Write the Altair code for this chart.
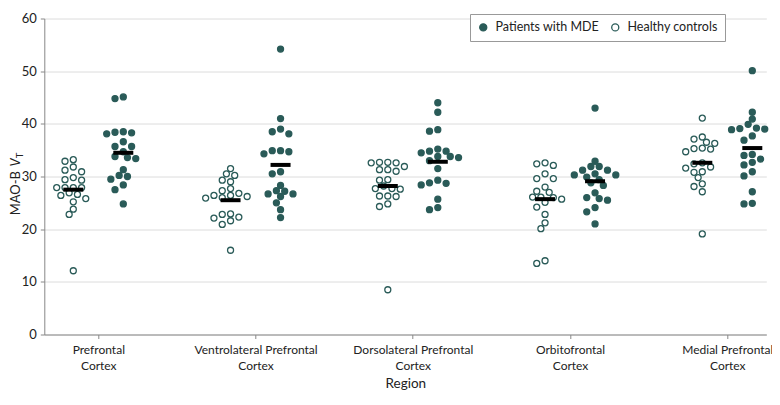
import altair as alt
import pandas as pd

# ---------------- data ----------------
regions = ["Prefrontal Cortex", "Ventrolateral Prefrontal Cortex",
           "Dorsolateral Prefrontal Cortex", "Orbitofrontal Cortex",
           "Medial Prefrontal Cortex"]
region_labels = [["Prefrontal", "Cortex"],
                 ["Ventrolateral Prefrontal", "Cortex"],
                 ["Dorsolateral Prefrontal", "Cortex"],
                 ["Orbitofrontal", "Cortex"],
                 ["Medial Prefrontal", "Cortex"]]
groups = ["Patients with MDE", "Healthy controls"]

hc_prefrontal = [33.2, 32.9, 31.8, 31.2, 30.9, 29.8, 29.4, 29.3, 27.9, 27.9,
                 27.9, 27.9, 26.9, 26.6, 26.4, 25.8, 25.2, 23.8, 22.8, 12.1]
mde_prefrontal = [45.1, 44.8, 38.5, 38.4, 38.3, 38.1, 36.6, 35.7, 35.7, 34.7,
                  33.8, 33.6, 33.4, 31.3, 30.2, 30.0, 29.5, 28.4, 27.5, 24.8]
hc_ventrolateral = [31.5, 30.5, 30.2, 29.3, 29.0, 27.7, 27.3, 26.8, 26.4, 26.4,
                    26.2, 26.0, 25.9, 22.9, 22.8, 22.3, 22.1, 21.6, 20.9, 16.0]
mde_ventrolateral = [54.2, 41.0, 39.0, 38.5, 38.1, 34.9, 34.9, 34.7, 34.3, 30.9,
                     30.5, 28.3, 27.3, 27.2, 26.7, 26.7, 26.2, 25.0, 23.7, 22.2]
hc_dorsolateral = [32.7, 32.6, 32.7, 32.6, 31.9, 31.3, 31.3, 31.0, 29.4, 29.3,
                   28.2, 27.7, 27.7, 27.6, 26.3, 26.2, 26.3, 24.8, 24.3, 8.5]
mde_dorsolateral = [44.0, 42.2, 38.9, 38.6, 35.2, 34.8, 34.8, 34.5, 33.8, 33.6,
                    33.0, 33.8, 31.5, 28.7, 28.4, 28.8, 29.3, 25.7, 24.1, 23.7]
hc_orbitofrontal = [32.4, 32.6, 32.1, 30.5, 29.6, 29.6, 28.0, 27.0, 27.2, 26.1,
                    26.1, 26.0, 25.7, 25.1, 24.2, 22.8, 21.2, 20.1, 14.0, 13.5]
mde_orbitofrontal = [43.0, 32.9, 31.9, 31.9, 30.5, 30.3, 31.2, 31.2, 30.3, 29.9,
                     28.8, 29.4, 28.3, 26.9, 25.8, 25.5, 26.0, 24.1, 23.3, 21.0]
hc_medial = [41.1, 37.5, 37.1, 36.5, 36.3, 35.3, 34.7, 35.4, 35.2, 32.4,
             32.6, 31.8, 31.6, 30.8, 30.9, 29.8, 28.6, 28.1, 27.1, 19.1]
mde_medial = [50.1, 42.2, 40.9, 39.9, 39.2, 39.0, 39.1, 38.9, 37.7, 36.9,
              34.2, 34.0, 33.3, 32.7, 32.2, 30.9, 30.1, 27.1, 24.9, 24.8]

# group means drawn as black bars
mean_mde = [34.5, 32.2, 32.8, 29.1, 35.4]
mean_hc = [27.5, 25.5, 28.2, 25.7, 32.6]

y_ticks = [0, 10, 20, 30, 40, 50, 60]

# ---------------- styling ----------------
TEAL = "#2A5B58"
FONT = "Lato"
W, H = 722, 316
PX_PER_REGION = 157.25
X_MIN = -54 / PX_PER_REGION
X_DOMAIN = [X_MIN, X_MIN + W / PX_PER_REGION]
Y_DOMAIN = [0, 60]
GROUP_SHIFT = 25 / PX_PER_REGION  # in region units

px_per_x = PX_PER_REGION
px_per_y = H / (Y_DOMAIN[1] - Y_DOMAIN[0])


def swarm_offsets(values, d=6.7, step=4.15):
    """Simple beeswarm: horizontal pixel offsets so dots do not overlap."""
    order = sorted(range(len(values)), key=lambda i: -values[i])
    cands = sorted([k * step for k in range(-10, 11)], key=lambda o: (abs(o), o))
    placed, offs = [], [0.0] * len(values)
    for i in order:
        yy = values[i] * px_per_y
        for o in cands:
            if all((o - po) ** 2 + (yy - py) ** 2 >= d * d for po, py in placed):
                break
        placed.append((o, yy))
        offs[i] = o
    return offs


hc_all = [hc_prefrontal, hc_ventrolateral, hc_dorsolateral, hc_orbitofrontal, hc_medial]
mde_all = [mde_prefrontal, mde_ventrolateral, mde_dorsolateral, mde_orbitofrontal, mde_medial]

rows = []
for ri in range(len(regions)):
    for grp, vals, sgn in [(groups[1], hc_all[ri], -1), (groups[0], mde_all[ri], 1)]:
        offs = swarm_offsets(vals)
        for v, o in zip(vals, offs):
            rows.append({"region": regions[ri], "group": grp, "value": v,
                         "x": ri + sgn * GROUP_SHIFT + o / px_per_x})
df = pd.DataFrame(rows)

mrows = []
for ri in range(len(regions)):
    mrows.append({"group": groups[1], "mean": mean_hc[ri], "x": ri - GROUP_SHIFT})
    mrows.append({"group": groups[0], "mean": mean_mde[ri], "x": ri + GROUP_SHIFT})
mdf = pd.DataFrame(mrows)

label_expr = ""
for i, lab in enumerate(region_labels):
    label_expr += f"datum.value == {i} ? {lab!r} : "
label_expr += "''"

x_enc = alt.X("x:Q",
              scale=alt.Scale(domain=X_DOMAIN, nice=False, zero=False),
              axis=alt.Axis(values=list(range(len(regions))), labelExpr=label_expr,
                            title="Region", grid=False, tickSize=4, labelPadding=6,
                            labelLineHeight=16, labelFontSize=12, titleFontSize=13.5,
                            titlePadding=5, titleFontWeight="normal"))
y_enc = alt.Y("value:Q",
              scale=alt.Scale(domain=Y_DOMAIN, nice=False),
              axis=alt.Axis(values=y_ticks, title=None, grid=True, tickSize=4,
                            labelPadding=4, labelFontSize=13))

points = alt.Chart(df).mark_point(
    shape="circle", filled=True, size=36, stroke=TEAL, strokeWidth=1.3, opacity=1
).encode(
    x=x_enc, y=y_enc,
    fill=alt.Fill("group:N",
                  scale=alt.Scale(domain=groups, range=[TEAL, "white"]),
                  legend=alt.Legend(title=None, orient="none", direction="horizontal",
                                    legendX=425.7, legendY=-4.5,
                                    fillColor="white", strokeColor="#999",
                                    padding=7, labelFontSize=12.5, labelFont=FONT,
                                    labelColor="#222", symbolType="circle",
                                    symbolSize=50, symbolStrokeColor=TEAL,
                                    symbolStrokeWidth=1.3, labelOffset=6,
                                    columnPadding=9))
)

means = alt.Chart(mdf).mark_tick(orient="horizontal", size=20, thickness=4,
                                 color="black", opacity=1).encode(
    x=alt.X("x:Q"), y=alt.Y("mean:Q"))

TX = -28.5
ytitle_df = pd.DataFrame({"a": ["MAO-B"], "b": ["V"], "c": ["T"]})
yt1 = alt.Chart(ytitle_df).mark_text(angle=270, align="right", baseline="middle",
                                     fontSize=13, font=FONT, color="#222").encode(
    x=alt.value(TX), y=alt.value(152.5), text="a:N")
yt2 = alt.Chart(ytitle_df).mark_text(angle=270, align="left", baseline="middle",
                                     fontSize=13, font=FONT, fontStyle="italic",
                                     color="#222").encode(
    x=alt.value(TX), y=alt.value(148.0), text="b:N")
yt3 = alt.Chart(ytitle_df).mark_text(angle=270, align="left", baseline="middle",
                                     fontSize=9.5, font=FONT, color="#222").encode(
    x=alt.value(TX + 4.5), y=alt.value(139.8), text="c:N")

chart = alt.layer(points, means, yt1, yt2, yt3).properties(
    width=W, height=H,
    padding={"left": 36.3, "top": 10.5, "right": 5.7, "bottom": 60},
    autosize=alt.AutoSizeParams(type="none"),
).configure_view(stroke=None).configure_axis(
    domainColor="#888", tickColor="#888", gridColor="#dcdcdc",
    labelColor="#222", titleColor="#222", labelFont=FONT, titleFont=FONT,
)

chart.save("out.html", embed_options={"renderer": "svg", "actions": False})
